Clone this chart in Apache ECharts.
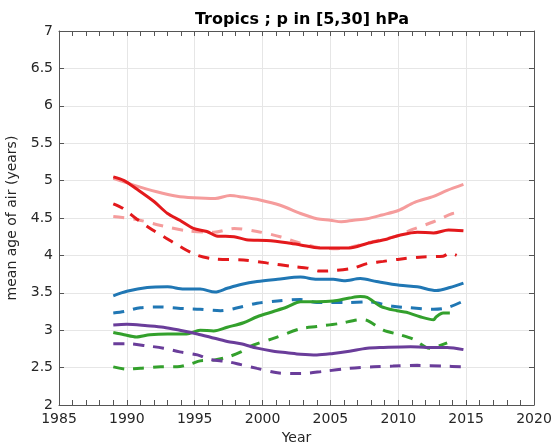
<!DOCTYPE html>
<html>
<head>
<meta charset="utf-8">
<script src="https://cdn.jsdelivr.net/npm/echarts@6/dist/echarts.min.js"></script>
<style>html,body{margin:0;padding:0;background:#fff}#c{width:552px;height:445px}</style>
</head>
<body>
<div id="c"></div>
<script>
const titleText = 'Tropics ; p in [5,30] hPa';
const xName = 'Year';
const yName = 'mean age of air (years)';

const pinkSolid = [[1989.0,5.03],[1990.5,4.94],[1992.2,4.85],[1993.7,4.79],[1994.9,4.77],[1996.5,4.76],[1997.6,4.80],[1998.5,4.78],[1999.8,4.74],[2001.3,4.67],[2002.8,4.56],[2004.0,4.49],[2005.0,4.47],[2005.8,4.45],[2006.7,4.47],[2007.7,4.49],[2008.8,4.54],[2010.0,4.60],[2011.2,4.71],[2012.6,4.79],[2013.6,4.87],[2014.8,4.95]];
const pinkDashed = [[1989.0,4.52],[1990.7,4.48],[1992.5,4.40],[1994.4,4.33],[1996.4,4.31],[1997.9,4.36],[1999.6,4.32],[2001.3,4.25],[2002.5,4.18],[2004.0,4.11],[2005.5,4.09],[2006.5,4.11],[2007.6,4.16],[2008.8,4.21],[2009.9,4.26],[2011.1,4.35],[2012.6,4.45],[2014.0,4.56],[2014.8,4.58]];
const redSolid = [[1989.0,5.05],[1989.8,5.00],[1990.7,4.89],[1992.0,4.72],[1993.0,4.56],[1993.9,4.47],[1994.9,4.36],[1995.9,4.32],[1996.6,4.26],[1997.9,4.25],[1998.8,4.21],[2000.3,4.20],[2001.8,4.17],[2002.8,4.14],[2004.2,4.10],[2005.2,4.10],[2006.4,4.10],[2007.7,4.16],[2009.2,4.22],[2010.1,4.27],[2011.4,4.31],[2012.6,4.30],[2013.7,4.34],[2014.8,4.33]];
const redDashed = [[1989.0,4.69],[1989.7,4.63],[1990.7,4.49],[1991.9,4.34],[1992.9,4.23],[1993.9,4.12],[1995.2,4.00],[1996.6,3.95],[1998.6,3.94],[2000.3,3.90],[2002.3,3.85],[2003.3,3.83],[2004.2,3.79],[2005.5,3.80],[2006.7,3.83],[2007.7,3.89],[2008.9,3.92],[2010.1,3.95],[2011.8,3.98],[2013.3,3.99],[2013.8,4.03],[2014.3,4.00]];
const blueSolid = [[1989.0,3.46],[1990.0,3.52],[1991.5,3.57],[1993.0,3.58],[1994.2,3.55],[1995.4,3.55],[1996.5,3.51],[1997.4,3.56],[1998.4,3.61],[1999.6,3.65],[2001.1,3.68],[2002.8,3.71],[2004.0,3.68],[2005.2,3.68],[2006.0,3.66],[2007.2,3.69],[2008.4,3.65],[2010.1,3.60],[2011.4,3.58],[2012.8,3.53],[2013.8,3.57],[2014.8,3.63]];
const blueDashed = [[1989.0,3.23],[1989.8,3.25],[1991.0,3.30],[1992.5,3.31],[1994.2,3.29],[1995.4,3.28],[1996.9,3.26],[1998.4,3.31],[1999.6,3.36],[2001.1,3.39],[2002.8,3.41],[2004.0,3.37],[2006.2,3.37],[2007.7,3.38],[2009.6,3.32],[2010.9,3.30],[2012.6,3.28],[2013.6,3.30],[2014.8,3.39]];
const greenSolid = [[1989.0,2.97],[1989.8,2.94],[1990.7,2.91],[1991.7,2.94],[1993.0,2.95],[1994.4,2.95],[1995.4,3.00],[1996.4,2.99],[1997.4,3.04],[1998.6,3.10],[1999.6,3.18],[2000.8,3.25],[2001.8,3.31],[2002.8,3.38],[2004.0,3.38],[2005.2,3.39],[2006.4,3.43],[2007.2,3.45],[2007.7,3.44],[2008.7,3.32],[2009.9,3.26],[2010.6,3.24],[2011.6,3.18],[2012.6,3.14],[2012.8,3.18],[2013.3,3.23],[2013.8,3.23]];
const greenDashed = [[1989.0,2.51],[1990.0,2.48],[1991.0,2.49],[1992.5,2.51],[1993.7,2.51],[1994.7,2.55],[1995.4,2.59],[1996.4,2.60],[1997.4,2.64],[1998.4,2.71],[1999.3,2.80],[2000.8,2.89],[2002.8,3.02],[2004.0,3.05],[2005.7,3.09],[2007.2,3.14],[2007.7,3.13],[2008.9,3.00],[2010.1,2.94],[2011.1,2.88],[2012.3,2.76],[2013.6,2.83]];
const purpleSolid = [[1989.0,3.07],[1990.0,3.08],[1991.5,3.06],[1992.7,3.04],[1993.9,3.00],[1995.2,2.95],[1996.1,2.91],[1997.4,2.85],[1998.4,2.82],[1999.6,2.76],[2000.8,2.72],[2001.8,2.70],[2002.8,2.68],[2004.0,2.67],[2005.2,2.69],[2006.4,2.72],[2007.7,2.76],[2008.9,2.77],[2010.9,2.78],[2012.1,2.77],[2013.6,2.77],[2014.8,2.74]];
const purpleDashed = [[1989.0,2.82],[1990.0,2.82],[1991.5,2.79],[1992.7,2.76],[1993.9,2.71],[1995.2,2.67],[1996.1,2.61],[1997.4,2.58],[1998.4,2.54],[1999.6,2.49],[2001.1,2.43],[2002.8,2.42],[2004.5,2.45],[2006.4,2.49],[2008.2,2.51],[2009.6,2.52],[2011.4,2.53],[2013.3,2.52],[2014.8,2.51]];

const xTicks = {min:1985, max:2020, interval:5};
const yTicks = {min:2, max:7, interval:0.5};

const COL = {pink:'#f59c9c', red:'#e3191c', blue:'#2077b4', green:'#33a02c', purple:'#6a3d9a'};
const DASH = [11, 9];
function mk(data, color, dashed){
  return {type:'line', data:data, showSymbol:false, smooth:0.3, z: dashed?2:3,
    lineStyle:{color:color, width:3, type: dashed?DASH:'solid', cap:'butt'}, animation:false};
}
const series = [
  mk(pinkSolid, COL.pink, false), mk(pinkDashed, COL.pink, true),
  mk(redSolid, COL.red, false), mk(redDashed, COL.red, true),
  mk(blueSolid, COL.blue, false), mk(blueDashed, COL.blue, true),
  mk(greenSolid, COL.green, false), mk(greenDashed, COL.green, true),
  mk(purpleSolid, COL.purple, false), mk(purpleDashed, COL.purple, true)
];
const axisCol = '#555';
const txtCol = '#262626';
const font = 'DejaVu Sans';
const chart = echarts.init(document.getElementById('c'), null, {renderer:'canvas'});
chart.setOption({
  animation:false,
  backgroundColor:'#fff',
  title:{text:titleText, left:297, top:7, textAlign:'center',
    textStyle:{fontFamily:font, fontSize:16, fontWeight:'bold', color:'#000'}},
  grid:{left:59, right:18, top:31, bottom:40, containLabel:false, outerBoundsMode:'none'},
  xAxis:[{type:'value', min:xTicks.min, max:xTicks.max, interval:xTicks.interval, position:'bottom',
    name:xName, nameLocation:'middle', nameGap:26,
    nameTextStyle:{fontFamily:font, fontSize:14, color:txtCol},
    axisLine:{show:true, lineStyle:{color:axisCol, width:1}},
    axisTick:{show:true, inside:true, length:5, lineStyle:{color:axisCol}},
    minorTick:{show:true, splitNumber:5, length:5, lineStyle:{color:axisCol}},
    axisLabel:{fontFamily:font, fontSize:14, color:txtCol, margin:7, formatter:v=>String(v)},
    splitLine:{show:true, lineStyle:{color:'#e6e6e6', width:1}}},
   {type:'value', min:xTicks.min, max:xTicks.max, interval:xTicks.interval, position:'top',
    axisLine:{show:true, lineStyle:{color:axisCol, width:1}},
    axisTick:{show:true, inside:true, length:5, lineStyle:{color:axisCol}},
    minorTick:{show:true, splitNumber:5, length:5, lineStyle:{color:axisCol}},
    axisLabel:{show:false}, splitLine:{show:false}}],
  yAxis:[{type:'value', min:yTicks.min, max:yTicks.max, interval:yTicks.interval, position:'left',
    name:yName, nameLocation:'middle', nameGap:31, nameRotate:90,
    nameTextStyle:{fontFamily:font, fontSize:14, color:txtCol},
    axisLine:{show:true, lineStyle:{color:axisCol, width:1}},
    axisTick:{show:true, inside:true, length:5, lineStyle:{color:axisCol}},
    axisLabel:{fontFamily:font, fontSize:14, color:txtCol, margin:6, formatter:v=>String(v)},
    splitLine:{show:true, lineStyle:{color:'#e6e6e6', width:1}}},
   {type:'value', min:yTicks.min, max:yTicks.max, interval:yTicks.interval, position:'right',
    axisLine:{show:true, lineStyle:{color:axisCol, width:1}},
    axisTick:{show:true, inside:true, length:5, lineStyle:{color:axisCol}},
    axisLabel:{show:false}, splitLine:{show:false}}],
  series: series
});
</script>
</body>
</html>
